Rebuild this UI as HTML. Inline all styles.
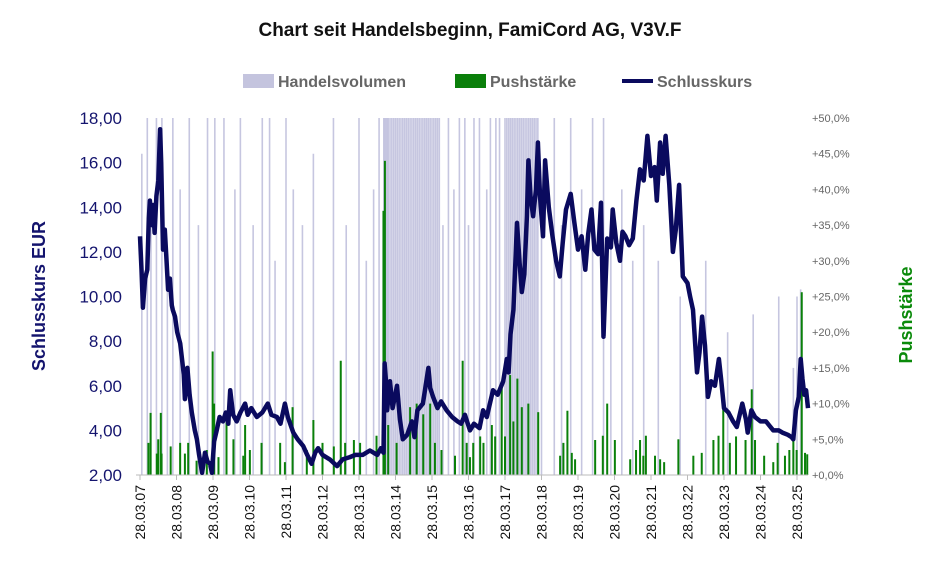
<!DOCTYPE html>
<html><head><meta charset="utf-8">
<style>
body{margin:0;background:#fff;width:940px;height:581px;overflow:hidden;font-family:"Liberation Sans",Arial,sans-serif;}
svg{display:block}
</style></head>
<body>
<svg id="chart" width="940" height="581">
<text x="470" y="36" text-anchor="middle" font-size="19" font-weight="bold" fill="#111">Chart seit Handelsbeginn, FamiCord AG, V3V.F</text>
<g>
 <rect x="243" y="74" width="31" height="14" fill="#c4c4de"/>
 <text x="278" y="87" font-size="16" font-weight="bold" fill="#666">Handelsvolumen</text>
 <rect x="455" y="74" width="31" height="14" fill="#0a7f0a"/>
 <text x="490" y="87" font-size="16" font-weight="bold" fill="#666">Pushstärke</text>
 <line x1="622" y1="81" x2="653" y2="81" stroke="#0a0a5e" stroke-width="4"/>
 <text x="657" y="87" font-size="16" font-weight="bold" fill="#666">Schlusskurs</text>
</g>
<text transform="translate(45,296) rotate(-90)" text-anchor="middle" font-size="18" font-weight="bold" fill="#14146e">Schlusskurs EUR</text>
<text transform="translate(912,315) rotate(-90)" text-anchor="middle" font-size="18" font-weight="bold" fill="#0a8a0a">Pushstärke</text>
<g id="vol"></g>
<g id="push"></g>
<g id="axes"></g>
<path id="price" fill="none" stroke="#0a0a5e" stroke-width="4.5" stroke-linejoin="round"/>
</svg>
<script>
const priceT=[0,0.04,0.08,0.14,0.2,0.24,0.27,0.32,0.36,0.4,0.45,0.5,0.55,0.58,0.63,0.68,0.72,0.77,0.82,0.87,0.9,0.96,1.02,1.1,1.15,1.2,1.23,1.3,1.36,1.42,1.5,1.56,1.62,1.7,1.78,1.85,1.92,1.97,2.03,2.1,2.18,2.27,2.35,2.42,2.47,2.55,2.65,2.75,2.88,2.95,3.05,3.2,3.35,3.5,3.6,3.75,3.85,3.97,4.05,4.2,4.32,4.47,4.58,4.7,4.8,4.88,5.0,5.2,5.4,5.55,5.75,5.9,6.1,6.3,6.5,6.6,6.67,6.7,6.74,6.77,6.85,6.92,7.04,7.12,7.2,7.32,7.45,7.52,7.6,7.75,7.9,7.95,8.03,8.15,8.25,8.4,8.55,8.7,8.8,8.9,9.04,9.15,9.3,9.4,9.5,9.67,9.8,9.95,10.05,10.1,10.15,10.23,10.33,10.4,10.46,10.53,10.6,10.64,10.7,10.77,10.85,10.9,10.96,11.04,11.1,11.2,11.3,11.4,11.5,11.58,11.67,11.8,11.9,12.0,12.1,12.2,12.28,12.37,12.45,12.55,12.63,12.7,12.8,12.9,12.95,13.05,13.15,13.22,13.3,13.4,13.5,13.6,13.7,13.8,13.9,14.0,14.1,14.16,14.25,14.32,14.4,14.5,14.6,14.68,14.77,14.87,15.0,15.07,15.15,15.26,15.33,15.4,15.48,15.56,15.65,15.75,15.86,15.92,16.0,16.12,16.25,16.35,16.5,16.6,16.65,16.75,16.85,17.0,17.15,17.25,17.35,17.5,17.6,17.75,17.85,17.9,17.97,18.05,18.1,18.15,18.2,18.25,18.3];
const priceV=[12.7,11.2,9.5,10.8,11.2,13.5,14.3,13.2,14.1,12.85,14.5,15.2,17.5,16.0,12.1,13.0,11.8,10.3,10.8,9.6,9.4,9.1,8.4,7.9,7.2,6.5,5.4,6.8,5.6,4.8,4.0,3.6,2.9,2.1,3.0,2.6,2.5,2.1,3.5,4.0,4.6,4.4,4.8,4.3,5.8,4.7,4.4,4.8,5.2,4.7,5.0,4.6,4.8,5.2,4.7,4.6,4.3,5.2,4.6,3.9,3.6,3.3,2.9,2.5,3.0,3.2,2.9,2.7,2.4,2.7,2.8,2.9,2.9,3.1,2.9,3.2,3.0,7.0,6.2,4.9,6.2,5.0,6.0,4.5,3.6,3.8,4.4,3.7,4.9,5.2,6.8,5.9,5.5,5.0,5.3,4.9,4.6,4.4,4.3,4.7,4.0,4.3,4.1,4.9,4.6,5.8,5.6,6.2,7.2,6.6,8.3,9.4,13.3,11.5,10.2,11.0,13.6,16.1,14.5,13.6,14.8,16.9,14.5,12.7,16.1,14.0,12.7,11.6,10.9,12.4,13.9,14.6,13.3,12.1,12.7,11.2,12.8,13.9,12.1,11.9,14.2,8.2,12.6,12.2,13.9,12.4,11.6,12.9,12.7,12.3,12.6,14.3,15.7,15.2,17.2,15.4,15.8,14.3,16.9,15.5,17.2,15.0,12.0,13.0,15.0,10.9,10.6,10.0,9.4,6.6,7.5,9.1,7.8,5.5,6.2,6.0,7.2,6.3,5.0,4.8,4.4,4.15,5.2,4.5,3.9,4.9,4.6,4.4,4.4,4.2,4.0,4.0,3.9,3.8,3.7,3.6,4.9,5.5,7.2,6.3,5.6,5.8,5.0];
const volT=[0.05,0.2,0.3,0.45,0.6,0.75,0.9,1.1,1.35,1.6,1.85,2.05,2.3,2.6,2.75,3.1,3.35,3.55,3.7,4.0,4.2,4.45,4.75,5.3,5.65,6.0,6.2,6.4,6.55,6.68,6.72,6.76,6.8,6.85,6.9,6.95,7.0,7.05,7.1,7.15,7.2,7.25,7.3,7.35,7.4,7.45,7.5,7.55,7.6,7.65,7.7,7.75,7.8,7.85,7.9,7.95,8.0,8.05,8.1,8.15,8.2,8.3,8.45,8.6,8.75,8.9,9.0,9.15,9.3,9.5,9.6,9.75,9.85,10.0,10.05,10.1,10.15,10.2,10.25,10.3,10.35,10.4,10.45,10.5,10.55,10.6,10.65,10.7,10.75,10.8,10.85,10.9,11.0,11.35,11.55,11.8,12.1,12.4,12.7,12.9,13.2,13.5,13.8,14.2,14.8,15.5,16.1,16.8,17.5,17.9,18.0,18.1];
const volV=[90,100,70,100,100,60,100,80,100,70,100,100,100,80,100,70,100,100,60,100,80,70,90,100,70,100,60,80,100,100,100,100,100,100,100,100,100,100,100,100,100,100,100,100,100,100,100,100,100,100,100,100,100,100,100,100,100,100,100,100,100,70,100,80,100,100,70,100,100,80,100,100,100,100,100,100,100,100,100,100,100,100,100,100,100,100,100,100,100,100,100,100,80,100,70,100,80,100,100,70,80,60,70,60,50,60,40,45,50,30,50,52,40];
const pushT=[0.23,0.29,0.46,0.5,0.57,0.59,0.84,1.1,1.23,1.32,1.55,1.83,1.99,2.03,2.15,2.37,2.56,2.83,2.88,3.01,3.33,3.84,3.97,4.18,4.57,4.75,5.0,5.31,5.5,5.62,5.86,6.03,6.48,6.67,6.71,6.8,7.03,7.4,7.58,7.76,7.95,8.08,8.26,8.63,8.84,8.95,9.04,9.13,9.32,9.41,9.64,9.73,9.91,10.0,10.14,10.23,10.34,10.46,10.64,10.91,11.51,11.6,11.71,11.83,11.92,12.47,12.68,12.8,13.01,13.43,13.59,13.7,13.79,13.86,14.11,14.25,14.36,14.75,15.16,15.39,15.71,15.85,15.98,16.16,16.33,16.59,16.76,16.85,17.1,17.35,17.47,17.67,17.79,17.9,17.99,18.13,18.22,18.28];
const pushV=[4.5,8.7,3,5,8.7,3,4,4.5,3,4.5,2,3.5,17.3,10,2.5,9,5,2.7,7,3.5,4.5,4.5,1.8,9.5,3.5,7.7,4.5,4,16,4.5,4.9,4.5,5.5,37,44,7,4.5,9.5,10,8.5,10,4.5,3.5,2.7,16,4.5,2.5,4.5,5.4,4.5,7,5.4,12.6,5.4,14,7.5,13.5,9.5,10,8.8,2.7,4.5,9,3.1,2.2,4.9,5.5,10,4.9,2.2,3.5,4.9,2.7,5.5,2.7,2.2,1.8,5,2.7,3.1,4.9,5.5,10,4.5,5.4,4.9,12,4.9,2.7,1.8,4.5,2.7,3.5,6.5,3.5,25.6,3.1,2.9];
const yTicks=[2,4,6,8,10,12,14,16,18];
const yTickLabels=["2,00","4,00","6,00","8,00","10,00","12,00","14,00","16,00","18,00"];
const pTicks=[0,5,10,15,20,25,30,35,40,45,50];
const pTickLabels=["+0,0%","+5,0%","+10,0%","+15,0%","+20,0%","+25,0%","+30,0%","+35,0%","+40,0%","+45,0%","+50,0%"];
const xTicks=[0,1,2,3,4,5,6,7,8,9,10,11,12,13,14,15,16,17,18];
const xTickLabels=["28.03.07","28.03.08","28.03.09","28.03.10","28.03.11","28.03.12","28.03.13","28.03.14","28.03.15","28.03.16","28.03.17","28.03.18","28.03.19","28.03.20","28.03.21","28.03.22","28.03.23","28.03.24","28.03.25"];

const NS="http://www.w3.org/2000/svg";
const X0=140,PX=36.5,YB=475,YT=118;
const xs=t=>X0+t*PX;
const ys=p=>YB-(p-2)/16*(YB-YT);
const yp=v=>YB-v/50*(YB-YT);
const yv=v=>YB-v/100*(YB-YT);
function mk(tag,attrs,parent){const e=document.createElementNS(NS,tag);for(const k in attrs)e.setAttribute(k,attrs[k]);parent.appendChild(e);return e;}
const vol=document.getElementById('vol'),push=document.getElementById('push'),axes=document.getElementById('axes');
volT.forEach((t,i)=>{const l=mk('line',{x1:xs(t),x2:xs(t),y1:YB,y2:yv(volV[i]),stroke:'#b8b8d8','stroke-width':1.6,'stroke-opacity':0.8},vol);

});
pushT.forEach((t,i)=>{const r=mk('rect',{x:xs(t)-1,y:yp(pushV[i]),width:2,height:YB-yp(pushV[i]),fill:'#0a800a'},push);

});
document.getElementById('price').setAttribute('d',priceT.map((t,i)=>(i?'L':'M')+xs(t).toFixed(1)+','+ys(priceV[i]).toFixed(1)).join(''));
const base=mk('line',{x1:136,x2:808,y1:YB,y2:YB,stroke:'#bbb','stroke-width':1},axes);


yTicks.forEach((v,i)=>{const t=mk('text',{x:122,y:ys(v)+6,'text-anchor':'end','font-size':17,fill:'#14146e'},axes);t.textContent=yTickLabels[i];

});
pTicks.forEach((v,i)=>{const t=mk('text',{x:812,y:yp(v)+4,'font-size':11,fill:'#666'},axes);t.textContent=pTickLabels[i];

});
xTicks.forEach((v,i)=>{const x=xs(v);const tk=mk('line',{x1:x,x2:x,y1:YB,y2:YB+5,stroke:'#bbb'},axes);


const t=mk('text',{transform:`translate(${x+5},${YB+10}) rotate(-90)`,'text-anchor':'end','font-size':14,fill:'#111'},axes);t.textContent=xTickLabels[i];

});
</script>
</body></html>
